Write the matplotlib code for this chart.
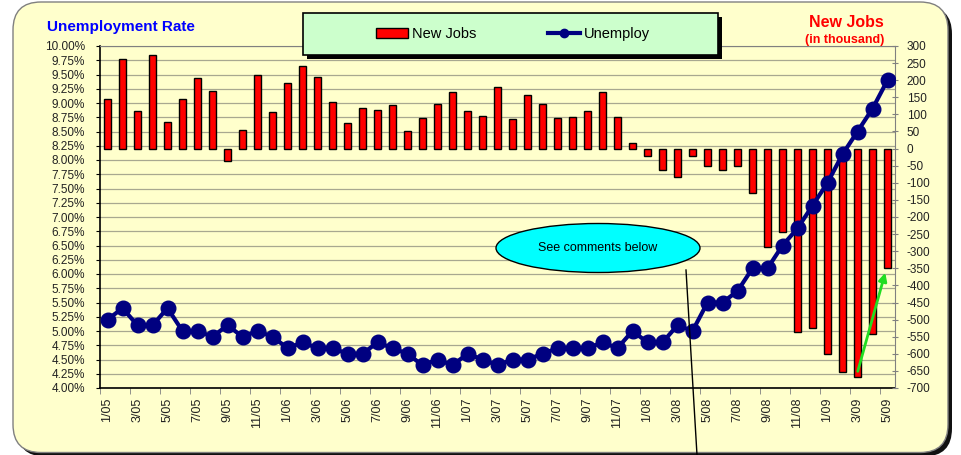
import numpy as np
import matplotlib.pyplot as plt
import matplotlib.ticker as ticker
from matplotlib.patches import FancyBboxPatch, Ellipse, Patch, FancyArrowPatch, Rectangle
from matplotlib.lines import Line2D

plt.rcParams['font.family'] = ['Liberation Sans', 'DejaVu Sans']
plt.rcParams['axes.unicode_minus'] = False

# Data: monthly, 1/05 .. 5/09
unemploy_rate = [5.2, 5.4, 5.1, 5.1, 5.4, 5.0, 5.0, 4.9, 5.1, 4.9, 5.0, 4.9,
                 4.7, 4.8, 4.7, 4.7, 4.6, 4.6, 4.8, 4.7, 4.6, 4.4, 4.5, 4.4,
                 4.6, 4.5, 4.4, 4.5, 4.5, 4.6, 4.7, 4.7, 4.7, 4.8, 4.7, 5.0,
                 4.8, 4.8, 5.1, 5.0, 5.5, 5.5, 5.7, 6.1, 6.1, 6.5, 6.8, 7.2,
                 7.6, 8.1, 8.5, 8.9, 9.4]
new_jobs = [144, 261, 109, 274, 77, 145, 206, 168, -36, 55, 214, 107,
            192, 242, 210, 137, 74, 120, 112, 127, 51, 90, 131, 166,
            110, 95, 179, 87, 156, 130, 89, 91, 109, 165, 92, 16,
            -22, -64, -82, -22, -51, -64, -52, -129, -287, -243, -535, -526,
            -601, -654, -667, -541, -348]
tick_labels = ['1/05', '3/05', '5/05', '7/05', '9/05', '11/05',
               '1/06', '3/06', '5/06', '7/06', '9/06', '11/06',
               '1/07', '3/07', '5/07', '7/07', '9/07', '11/07',
               '1/08', '3/08', '5/08', '7/08', '9/08', '11/08',
               '1/09', '3/09', '5/09']

bg = '#FFFFCC'
grid_c = '#A8A890'
navy = '#000080'

fig = plt.figure(figsize=(9.61, 4.55), dpi=100)
fig.patch.set_facecolor('white')

# outer rounded frame with shadow (inches)
fr_shadow = FancyBboxPatch((0.17, -0.015), 9.35, 4.505,
                           boxstyle='round,pad=0,rounding_size=0.28',
                           transform=fig.dpi_scale_trans, fc='#111111', ec='none', zorder=-3)
frame = FancyBboxPatch((0.13, 0.025), 9.35, 4.505,
                       boxstyle='round,pad=0,rounding_size=0.28',
                       transform=fig.dpi_scale_trans, fc=bg, ec='#808080', lw=1, zorder=-2)
fig.add_artist(fr_shadow)
fig.add_artist(frame)

ax = fig.add_axes([100/961, 67/455, 795/961, 342/455])
ax.set_facecolor(bg)
axb = ax.twinx()
axl = ax.twinx()

x = np.arange(len(unemploy_rate))

# grid + left axis
ax.set_ylim(4, 10)
ax.set_yticks(np.arange(4, 10.001, 0.25))
ax.yaxis.set_major_formatter(ticker.FuncFormatter(lambda v, p: f'{v:.2f}%'))
ax.grid(axis='y', color=grid_c, lw=0.9)
ax.set_axisbelow(True)
ax.tick_params(axis='y', labelsize=8.5, length=3, pad=8, labelcolor='#222222')

# bars
axb.bar(x, new_jobs, width=0.45, color='#FF0000', edgecolor='black', lw=1, zorder=2)
axb.set_ylim(-700, 300)
axb.set_yticks(np.arange(-700, 301, 50))
axb.tick_params(axis='y', labelsize=8.5, length=5, direction='inout', pad=6,
                color='#808080', labelcolor='#222222')

# line
axl.plot(x, unemploy_rate, color=navy, lw=3, marker='o', ms=10.5, zorder=3)
axl.set_ylim(4, 10)
axl.set_yticks([])

ax.set_xlim(-0.5, len(x) - 0.5)
ax.set_xticks(x[::2])
ax.set_xticklabels(tick_labels, rotation=90, fontsize=9, color='#222222')
ax.set_xticks(np.arange(-0.5, len(x), 2), minor=True)
ax.tick_params(axis='x', which='major', length=0, pad=7)
ax.tick_params(axis='x', which='minor', length=4, color='#808080')

for a in (ax, axb, axl):
    for s in a.spines.values():
        s.set_visible(False)
ax.spines['left'].set_visible(True)
ax.spines['bottom'].set_visible(True)
ax.spines['left'].set_color('black')
ax.spines['bottom'].set_color('black')
ax.spines['left'].set_linewidth(1.2)
ax.spines['bottom'].set_linewidth(1.2)
ax.spines['top'].set_visible(True)
ax.spines['top'].set_color('#808080')
axb.spines['right'].set_visible(True)
axb.spines['right'].set_color('#808080')

# titles
fig.text(47/961, 1 - 27/455, 'Unemployment Rate', color='#0000FF', fontsize=11,
         fontweight='bold', ha='left', va='center')
fig.text(846/961, 1 - 22.5/455, 'New Jobs', color='#FF0000', fontsize=11.5,
         fontweight='bold', ha='center', va='center')
fig.text(845/961, 1 - 39.5/455, '(in thousand)', color='#FF0000', fontsize=9,
         fontweight='bold', ha='center', va='center')

# legend box
lg_shadow = Rectangle((3.07, 3.96), 4.15, 0.42, transform=fig.dpi_scale_trans,
                      fc='black', ec='none', zorder=4)
lg_box = Rectangle((3.03, 4.00), 4.15, 0.42, transform=fig.dpi_scale_trans,
                   fc='#CCFFCC', ec='black', lw=1.2, zorder=4.5)
fig.add_artist(lg_shadow)
fig.add_artist(lg_box)
handles = [Patch(fc='#FF0000', ec='black', lw=1),
           Line2D([], [], color=navy, lw=3, marker='o', ms=6)]
leg = fig.legend(handles, ['New Jobs', 'Unemploy'], loc='center',
                 bbox_to_anchor=(513/961, 1 - 34/455), ncol=2, frameon=False,
                 fontsize=10.5, columnspacing=4.9, handlelength=2.2, handletextpad=0.25)
leg.set_zorder(6)

# callout
ell = Ellipse((5.98, 2.07), 2.04, 0.49, transform=fig.dpi_scale_trans,
              fc='#00FFFF', ec='black', lw=1, zorder=6)
fig.add_artist(ell)
fig.text(598/961, 1 - 248/455, 'See comments below', fontsize=9, ha='center',
         va='center', zorder=7)
fig.add_artist(Line2D([6.86, 6.97], [1.85, 0.0], transform=fig.dpi_scale_trans,
                      color='black', lw=1, zorder=6))
fig.add_artist(FancyArrowPatch((8.57, 0.81), (8.86, 1.85), transform=fig.dpi_scale_trans,
                               arrowstyle='-|>', mutation_scale=12, color='#22DD22',
                               lw=2, zorder=6))

fig.savefig('out.png', dpi=100)
